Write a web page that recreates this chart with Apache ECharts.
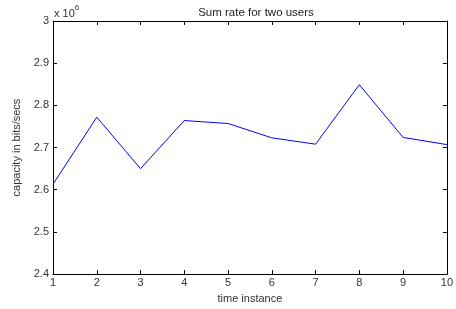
<!DOCTYPE html>
<html>
<head>
<meta charset="utf-8">
<script src="https://cdn.jsdelivr.net/npm/echarts@6/dist/echarts.min.js"></script>
<style>
  html, body { margin: 0; padding: 0; background: #fff; }
  #main { width: 456px; height: 309px; }
</style>
</head>
<body>
<div id="main"></div>
<script>
// sum rate, in units of 1e6 bits/sec
var timeInstance = [1, 2, 3, 4, 5, 6, 7, 8, 9, 10];
var sumRate = [2.613, 2.772, 2.650, 2.764, 2.757, 2.723, 2.708, 2.849, 2.724, 2.707];

var seriesData = timeInstance.map(function (t, i) { return [t, sumRate[i]]; });

var myChart = echarts.init(document.getElementById('main'));
var fontFam = '"Liberation Sans", Arial, sans-serif';
var tickStyle = { show: true, inside: true, length: 4, lineStyle: { color: '#000', width: 1 } };
var lineStyle = { lineStyle: { color: '#000', width: 1 } };

var option = {
    animation: false,
    textStyle: { fontFamily: fontFam },
    title: {
        text: 'Sum rate for two users',
        left: 251, top: 2,
        textAlign: 'center',
        textStyle: { fontSize: 11.5, fontWeight: 'normal', color: '#222', fontFamily: fontFam }
    },
    graphic: [{
        type: 'text',
        left: 54, top: 4,
        style: {
            text: '{a|x 10}{b|6}',
            rich: {
                a: { fontSize: 11, fill: '#333', fontFamily: fontFam, verticalAlign: 'bottom' },
                b: { fontSize: 8, fill: '#333', fontFamily: fontFam, padding: [0, 0, 7, 0] }
            }
        }
    }],
    grid: { left: 53, right: 4, top: 21, bottom: 31, containLabel: false },
    xAxis: [{
        type: 'value', min: 1, max: 10, interval: 1,
        position: 'bottom',
        name: 'time instance', nameLocation: 'middle', nameGap: 18,
        nameTextStyle: { fontSize: 11, color: '#333' },
        axisLine: lineStyle, axisTick: tickStyle, splitLine: { show: false },
        axisLabel: { fontSize: 11, color: '#333', margin: 3 }
    }, {
        type: 'value', min: 1, max: 10, interval: 1,
        position: 'top',
        axisLine: lineStyle, axisTick: tickStyle, splitLine: { show: false },
        axisLabel: { show: false }
    }],
    yAxis: [{
        type: 'value', min: 2.4, max: 3, interval: 0.1,
        position: 'left',
        name: 'capacity in bits/secs', nameLocation: 'middle', nameGap: 27,
        nameTextStyle: { fontSize: 11, color: '#333' },
        axisLine: lineStyle, axisTick: tickStyle, splitLine: { show: false },
        axisLabel: {
            fontSize: 11, color: '#333', margin: 4,
            formatter: function (v) { return +v.toFixed(1) + ''; }
        }
    }, {
        type: 'value', min: 2.4, max: 3, interval: 0.1,
        position: 'right',
        axisLine: lineStyle, axisTick: tickStyle, splitLine: { show: false },
        axisLabel: { show: false }
    }],
    series: [{
        type: 'line',
        xAxisIndex: 0, yAxisIndex: 0,
        data: seriesData,
        symbol: 'none',
        lineStyle: { color: '#0000ff', width: 1 }
    }]
};

myChart.setOption(option);
</script>
</body>
</html>
